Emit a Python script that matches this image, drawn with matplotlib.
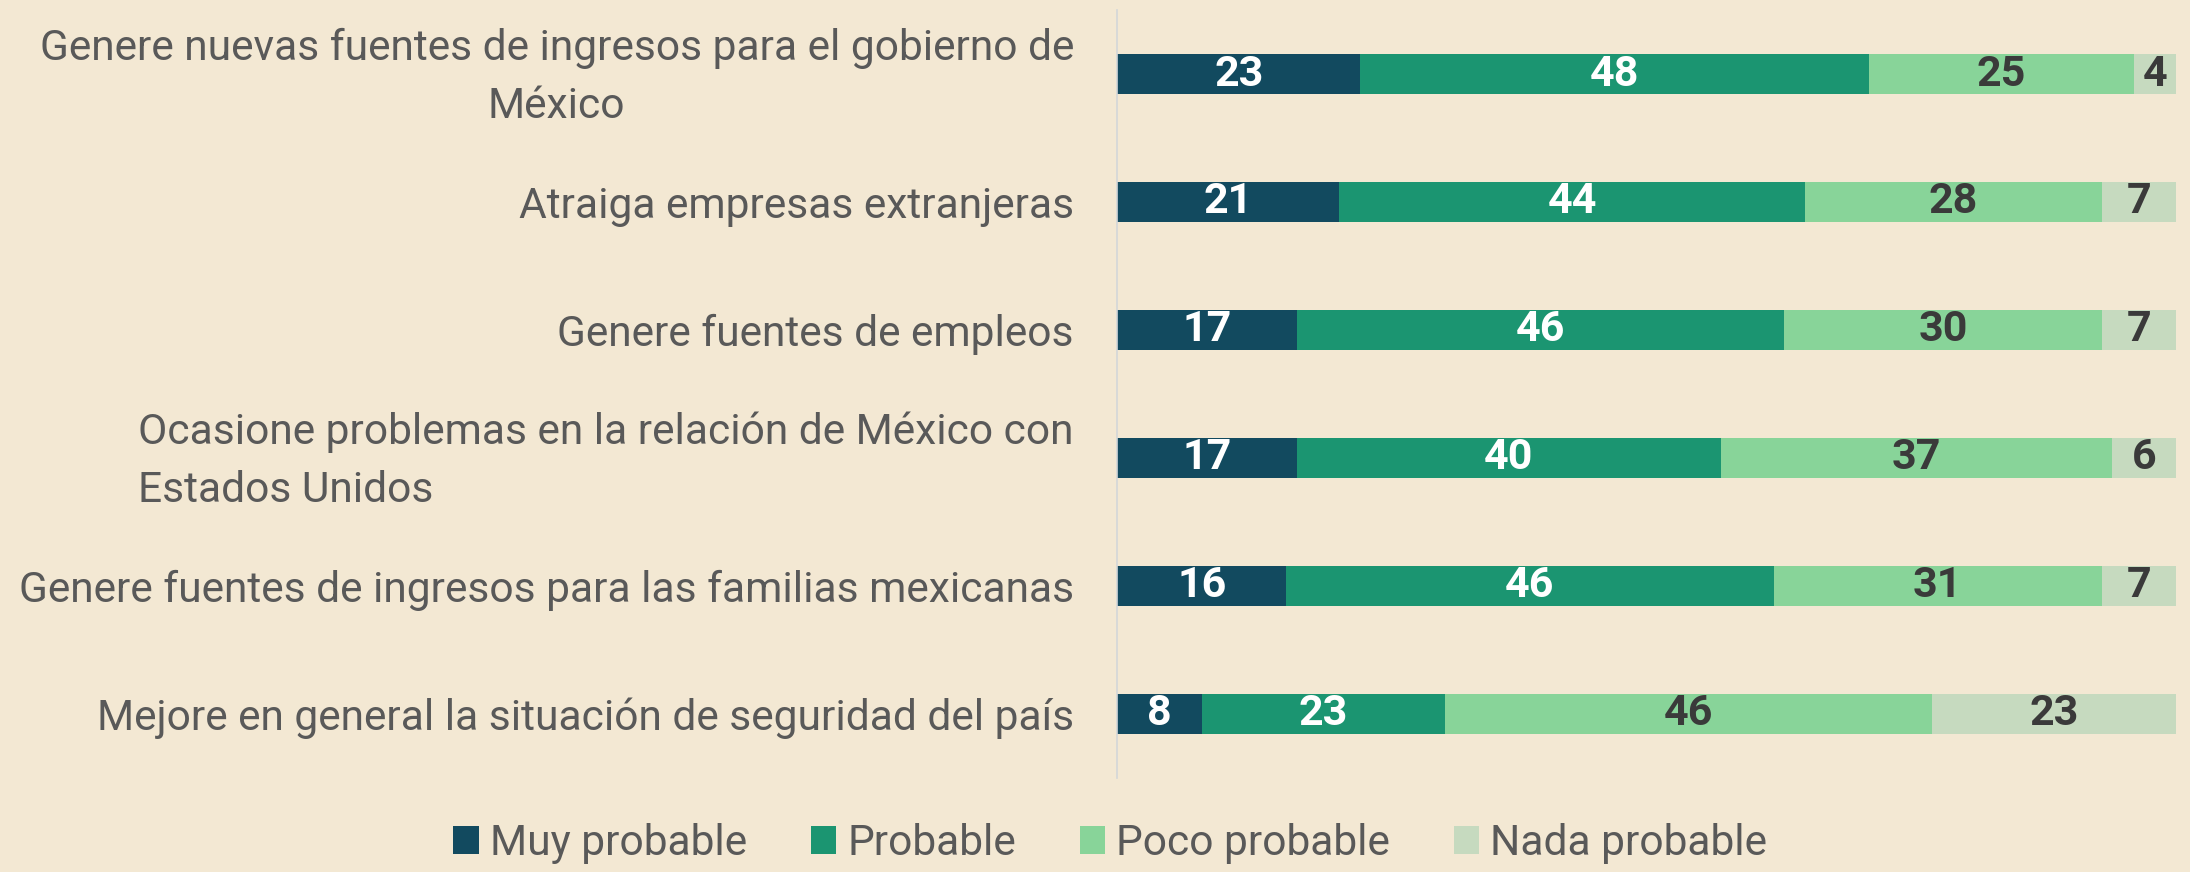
import matplotlib
matplotlib.use("Agg")
import matplotlib.pyplot as plt
import matplotlib.transforms as mtransforms
from matplotlib.patches import Patch

plt.rcParams['font.family'] = ['Roboto', 'DejaVu Sans']

categories = [
    "Genere nuevas fuentes de ingresos para el gobierno de\nMéxico",
    "Atraiga empresas extranjeras",
    "Genere fuentes de empleos",
    "Ocasione problemas en la relación de México con\nEstados Unidos",
    "Genere fuentes de ingresos para las familias mexicanas",
    "Mejore en general la situación de seguridad del país",
]
label_align = ["center", "center", "center", "left", "center", "center"]
series_names = ["Muy probable", "Probable", "Poco probable", "Nada probable"]
muy_probable = [23, 21, 17, 17, 16, 8]
probable = [48, 44, 46, 40, 46, 23]
poco_probable = [25, 28, 30, 37, 31, 46]
nada_probable = [4, 7, 7, 6, 7, 23]

series = [muy_probable, probable, poco_probable, nada_probable]
colors = ["#124A5F", "#1B9571", "#88D499", "#C6DABF"]
label_colors = ["white", "white", "#3A3A3A", "#3A3A3A"]
bg = "#F3E8D3"
text_color = "#595959"
fs = 30.6

fig = plt.figure(figsize=(21.9, 8.72), dpi=100, facecolor=bg)
ax = fig.add_axes([0.510, 0.108, 0.4836, 0.8805])
ax.set_facecolor(bg)

y = list(range(len(categories)))
left = [0] * len(categories)
for vals, col, lc in zip(series, colors, label_colors):
    ax.barh(y, vals, left=left, height=0.31, color=col, edgecolor='none')
    for yi, l, v in zip(y, left, vals):
        ax.text(l + v / 2, yi, str(v), ha='center', va='center',
                fontsize=31, fontweight='bold', color=lc)
    left = [a + b for a, b in zip(left, vals)]

ax.set_xlim(0, 100)
ax.set_ylim(len(categories) - 0.5, -0.5)
ax.set_yticks([])
ax.set_xticks([])

# category labels
base = mtransforms.blended_transform_factory(ax.transAxes, ax.transData)
for yi, cat, al in zip(y, categories, label_align):
    dy = 0.10 if "\n" in cat else 0.0
    tr = base + mtransforms.ScaledTranslation(-0.43, dy, fig.dpi_scale_trans)
    ax.text(0, yi, cat, transform=tr, ha='right', va='center_baseline',
            multialignment=al, fontsize=fs, color=text_color, linespacing=1.55)

for s in ['top', 'right', 'bottom']:
    ax.spines[s].set_visible(False)
ax.spines['left'].set_color('#D3D6D8')
ax.spines['left'].set_linewidth(1.2)

handles = [Patch(facecolor=c, edgecolor='none') for c in colors]
fig.legend(handles, series_names, loc='center', bbox_to_anchor=(0.507, 0.033),
           ncol=4, frameon=False, fontsize=fs, labelcolor=text_color,
           handlelength=0.6, handleheight=0.62, handletextpad=0.26,
           columnspacing=1.5)

fig.savefig("out.png", dpi=100, facecolor=bg)
